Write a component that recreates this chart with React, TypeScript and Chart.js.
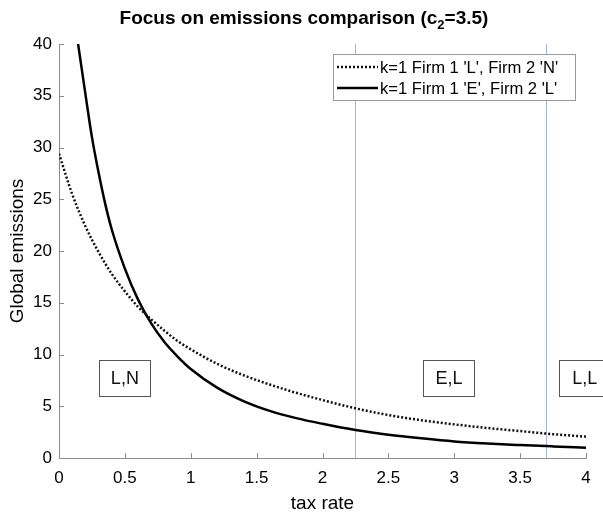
import React, { useEffect, useRef } from "react";
import { Chart, registerables } from "chart.js";

Chart.register(...registerables);

const TITLE_MAIN = "Focus on emissions comparison (c";
const TITLE_SUB = "2";
const TITLE_END = "=3.5)";
const X_LABEL = "tax rate";
const Y_LABEL = "Global emissions";
const SERIES_NAMES = ["k=1 Firm 1 'L', Firm 2 'N'", "k=1 Firm 1 'E', Firm 2 'L'"];

const DOTTED_X = [0, 0.1, 0.2, 0.3, 0.4, 0.5, 0.6, 0.7, 0.8, 0.9, 1.0, 1.2, 1.4, 1.6, 1.8, 2.0, 2.25, 2.5, 2.75, 3.0, 3.25, 3.5, 3.75, 4.0];
const DOTTED_Y = [29.4, 25.5, 22.4, 19.9, 17.8, 16.1, 14.6, 13.4, 12.3, 11.3, 10.5, 9.1, 8.0, 7.1, 6.3, 5.6, 4.8, 4.15, 3.65, 3.25, 2.9, 2.6, 2.3, 2.06];

const SOLID_X = [0.145, 0.2, 0.25, 0.3, 0.35, 0.4, 0.5, 0.6, 0.7, 0.8, 0.9, 1.0, 1.2, 1.4, 1.6, 1.8, 2.0, 2.25, 2.5, 2.75, 3.0, 3.25, 3.5, 3.75, 4.0];
const SOLID_Y = [40, 35.2, 31.0, 27.6, 24.6, 22.1, 18.3, 15.3, 13.0, 11.2, 9.8, 8.6, 6.8, 5.5, 4.55, 3.85, 3.3, 2.7, 2.25, 1.9, 1.6, 1.4, 1.25, 1.12, 1.0];

const BOUNDARIES = [2.25, 3.7];
const REGION_LABELS = ["L,N", "E,L", "L,L"];
const REGION_X = [0.5, 2.96, 3.99];
const REGION_Y = [7.7, 7.7, 7.7];

const X_MIN = 0, X_MAX = 4, X_STEP = 0.5;
const Y_MIN = 0, Y_MAX = 40, Y_STEP = 5;

const FONT = "'Liberation Sans', Arial, Helvetica, sans-serif";
const AXIS_COLOR = "#8c8c8c";

const overlayPlugin = {
  id: "overlay",
  beforeDatasetsDraw(chart: any) {
    const { ctx, chartArea, scales } = chart;
    const xs = scales.x;
    ctx.save();
    ctx.strokeStyle = "#a3b6cb";
    ctx.lineWidth = 1;
    BOUNDARIES.forEach((b) => {
      const px = Math.round(xs.getPixelForValue(b)) + 0.5;
      ctx.beginPath();
      ctx.moveTo(px, chartArea.top);
      ctx.lineTo(px, chartArea.bottom);
      ctx.stroke();
    });
    ctx.restore();
  },
  afterDraw(chart: any) {
    const { ctx, chartArea, scales } = chart;
    const xs = scales.x, ys = scales.y;
    ctx.save();
    // inward tick marks
    ctx.strokeStyle = AXIS_COLOR;
    ctx.lineWidth = 1;
    xs.ticks.forEach((t: any) => {
      const px = Math.round(xs.getPixelForValue(t.value)) + 0.5;
      ctx.beginPath();
      ctx.moveTo(px, chartArea.bottom);
      ctx.lineTo(px, chartArea.bottom - 5);
      ctx.stroke();
    });
    ys.ticks.forEach((t: any) => {
      const py = Math.round(ys.getPixelForValue(t.value)) + 0.5;
      ctx.beginPath();
      ctx.moveTo(chartArea.left, py);
      ctx.lineTo(chartArea.left + 5, py);
      ctx.stroke();
    });

    // region labels
    ctx.font = `18px ${FONT}`;
    ctx.textAlign = "center";
    ctx.textBaseline = "middle";
    REGION_LABELS.forEach((lab, i) => {
      const cx = xs.getPixelForValue(REGION_X[i]);
      const cy = ys.getPixelForValue(REGION_Y[i]);
      const w = 51, h = 36;
      const x0 = Math.round(cx - w / 2) + 0.5;
      const y0 = Math.round(cy - h / 2) + 0.5;
      ctx.fillStyle = "#ffffff";
      ctx.fillRect(x0, y0, w, h);
      ctx.strokeStyle = "#555555";
      ctx.lineWidth = 1;
      ctx.strokeRect(x0, y0, w, h);
      ctx.fillStyle = "#111111";
      ctx.fillText(lab, cx, cy + 1);
    });

    // legend
    const lx0 = 333.5, ly0 = 54.5, lw = 242, lh = 46;
    ctx.fillStyle = "#ffffff";
    ctx.fillRect(lx0, ly0, lw, lh);
    ctx.strokeStyle = "#999999";
    ctx.lineWidth = 1;
    ctx.strokeRect(lx0, ly0, lw, lh);
    const rows = [67, 88];
    chart.data.datasets.forEach((ds: any, i: number) => {
      const y = rows[i];
      ctx.strokeStyle = ds.borderColor;
      ctx.lineWidth = ds.borderWidth;
      ctx.setLineDash(ds.borderDash || []);
      ctx.beginPath();
      ctx.moveTo(337, y);
      ctx.lineTo(378, y);
      ctx.stroke();
      ctx.setLineDash([]);
      ctx.fillStyle = "#000000";
      ctx.font = `16.6px ${FONT}`;
      ctx.textAlign = "left";
      ctx.textBaseline = "middle";
      ctx.fillText(ds.label, 380, y + 1);
    });

    // title with subscript
    const mainFont = `bold 19px ${FONT}`;
    const subFont = `bold 13px ${FONT}`;
    ctx.font = mainFont;
    const w1 = ctx.measureText(TITLE_MAIN).width;
    const w3 = ctx.measureText(TITLE_END).width;
    ctx.font = subFont;
    const w2 = ctx.measureText(TITLE_SUB).width;
    const total = w1 + w2 + w3;
    let tx = 304 - total / 2;
    const ty = 24;
    ctx.fillStyle = "#000000";
    ctx.textAlign = "left";
    ctx.textBaseline = "alphabetic";
    ctx.font = mainFont;
    ctx.fillText(TITLE_MAIN, tx, ty);
    tx += w1;
    ctx.font = subFont;
    ctx.fillText(TITLE_SUB, tx, ty + 5);
    tx += w2;
    ctx.font = mainFont;
    ctx.fillText(TITLE_END, tx, ty);
    ctx.restore();
  },
};

export default function App() {
  const canvasRef = useRef<HTMLCanvasElement | null>(null);

  useEffect(() => {
    document.body.style.margin = "0";
    const canvas = canvasRef.current;
    if (!canvas) return;
    const chart = new Chart(canvas, {
      type: "line",
      data: {
        datasets: [
          {
            label: SERIES_NAMES[0],
            data: DOTTED_X.map((x, i) => ({ x, y: DOTTED_Y[i] })),
            borderColor: "#111111",
            borderWidth: 2.5,
            borderDash: [2, 2],
            pointRadius: 0,
            fill: false,
            cubicInterpolationMode: "monotone",
          },
          {
            label: SERIES_NAMES[1],
            data: SOLID_X.map((x, i) => ({ x, y: SOLID_Y[i] })),
            borderColor: "#000000",
            borderWidth: 2.5,
            pointRadius: 0,
            fill: false,
            cubicInterpolationMode: "monotone",
          },
        ],
      },
      options: {
        animation: false,
        responsive: false,
        maintainAspectRatio: false,
        layout: { padding: { top: 44, right: 17, left: 0, bottom: 0 } },
        plugins: {
          legend: { display: false },
          title: { display: false },
          tooltip: { enabled: false },
        },
        scales: {
          x: {
            type: "linear",
            min: X_MIN,
            max: X_MAX,
            grid: { display: false, drawTicks: false },
            border: { display: true, color: AXIS_COLOR, width: 1 },
            ticks: {
              stepSize: X_STEP,
              color: "#000000",
              padding: 10,
              maxRotation: 0,
              font: { family: FONT, size: 17 },
              callback: (v: any) => String(Math.round(Number(v) * 100) / 100),
            },
            title: {
              display: true,
              text: X_LABEL,
              color: "#000000",
              padding: { top: 0, bottom: 0 },
              font: { family: FONT, size: 19 },
            },
            afterFit: (s: any) => { s.height = 57; },
          },
          y: {
            type: "linear",
            min: Y_MIN,
            max: Y_MAX,
            grid: { display: false, drawTicks: false },
            border: { display: true, color: AXIS_COLOR, width: 1 },
            ticks: {
              stepSize: Y_STEP,
              color: "#000000",
              padding: 7,
              font: { family: FONT, size: 17 },
            },
            title: {
              display: true,
              text: Y_LABEL,
              color: "#000000",
              padding: { top: 6, bottom: 0 },
              font: { family: FONT, size: 19 },
            },
            afterFit: (s: any) => { s.width = 59; },
          },
        },
      },
      plugins: [overlayPlugin],
    } as any);
    return () => chart.destroy();
  }, []);

  return (
    <div style={{ width: 603, height: 515 }}>
      <canvas ref={canvasRef} width={603} height={515} style={{ width: 603, height: 515, display: "block" }} />
    </div>
  );
}
